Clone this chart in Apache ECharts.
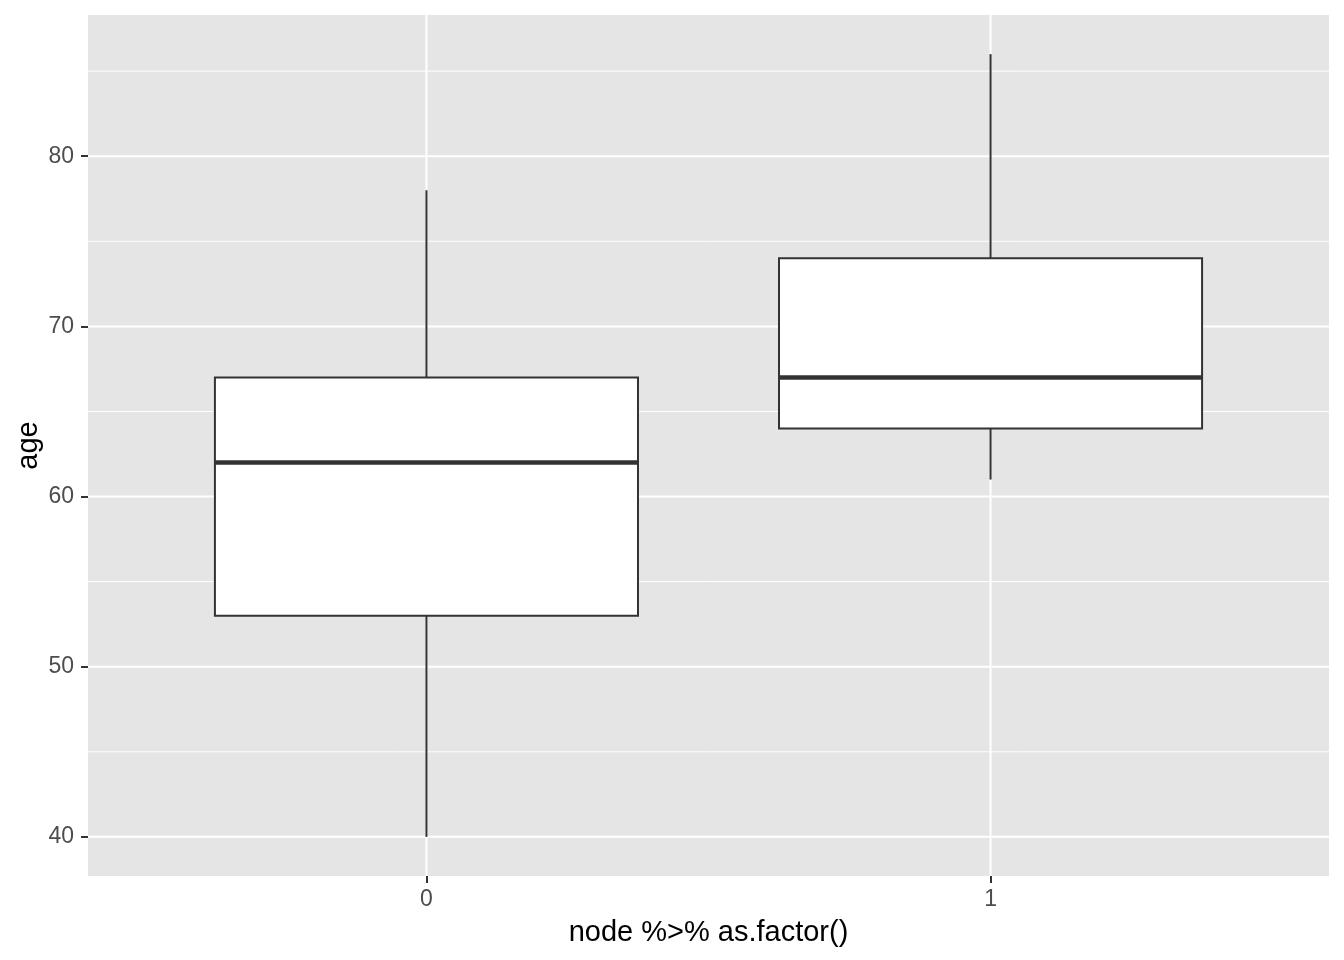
<!DOCTYPE html>
<html>
<head>
<meta charset="utf-8">
<script src="https://cdn.jsdelivr.net/npm/echarts@6/dist/echarts.min.js"></script>
<style>
html,body{margin:0;padding:0;background:#fff;}
#chart{width:1344px;height:960px;}
</style>
</head>
<body>
<div id="chart"></div>
<script>
// Data
var categories = ['0', '1'];
var mins    = [40, 61];
var q1s     = [53, 64];
var medians = [62, 67];
var q3s     = [67, 74];
var maxs    = [78, 86];
var yTicks  = [40, 50, 60, 70, 80];
var yMinor  = [45, 55, 65, 75, 85];
var xTicks  = [0, 1];

var boxData = categories.map(function (c, i) {
  return [i, mins[i], q1s[i], medians[i], q3s[i], maxs[i]];
});

// [kind (0 = horizontal, 1 = vertical), value, major (1) / minor (0)]
var gridData = [];
yMinor.forEach(function (v) { gridData.push([0, v, 0]); });
yTicks.forEach(function (v) { gridData.push([0, v, 1]); });
xTicks.forEach(function (v) { gridData.push([1, v, 1]); });

var chart = echarts.init(document.getElementById('chart'));
var option = {
  animation: false,
  backgroundColor: '#ffffff',
  grid: {
    left: 88, right: 15, top: 15, bottom: 84,
    show: true, backgroundColor: '#E5E5E5', borderWidth: 0
  },
  xAxis: {
    type: 'value',
    min: -0.6, max: 1.6,
    name: 'node %>% as.factor()',
    nameLocation: 'middle',
    nameGap: 42,
    nameTextStyle: { color: '#000000', fontSize: 29, fontFamily: 'Liberation Sans, Arial, sans-serif' },
    axisLine: { show: false, onZero: false },
    axisTick: { show: true, length: 7, lineStyle: { color: '#333333', width: 2 }, customValues: xTicks },
    axisLabel: {
      show: true, margin: 12, color: '#4D4D4D', fontSize: 23,
      fontFamily: 'Liberation Sans, Arial, sans-serif',
      customValues: xTicks,
      formatter: function (v) { return categories[Math.round(v)]; }
    },
    splitLine: { show: false }
  },
  yAxis: {
    type: 'value',
    min: 37.7, max: 88.3,
    name: 'age',
    nameLocation: 'middle',
    nameGap: 45,
    nameMoveOverlap: false,
    nameRotate: 90,
    nameTextStyle: { color: '#000000', fontSize: 29, fontFamily: 'Liberation Sans, Arial, sans-serif' },
    axisLine: { show: false, onZero: false },
    axisTick: { show: true, length: 7, lineStyle: { color: '#333333', width: 2 }, customValues: yTicks },
    axisLabel: {
      show: true, margin: 14, color: '#4D4D4D', fontSize: 23,
      fontFamily: 'Liberation Sans, Arial, sans-serif',
      customValues: yTicks
    },
    splitLine: { show: false }
  },
  series: [
    {
      type: 'custom',
      silent: true,
      z: 1,
      data: gridData,
      encode: { x: -1, y: -1 },
      renderItem: function (params, api) {
        var cs = params.coordSys;
        var kind = api.value(0);
        var v = api.value(1);
        var w = api.value(2) === 1 ? 2 : 1;
        var shape;
        if (kind === 0) {
          var p = api.coord([0, v]);
          shape = { x1: cs.x, y1: p[1], x2: cs.x + cs.width, y2: p[1] };
        } else {
          var q = api.coord([v, 50]);
          shape = { x1: q[0], y1: cs.y, x2: q[0], y2: cs.y + cs.height };
        }
        return { type: 'line', shape: shape, style: { stroke: '#FFFFFF', lineWidth: w } };
      }
    },
    {
      type: 'custom',
      z: 2,
      data: boxData,
      encode: { x: 0, y: [1, 2, 3, 4, 5] },
      renderItem: function (params, api) {
        var x = api.value(0);
        var half = 0.375;
        var pMin = api.coord([x, api.value(1)]);
        var pQ1 = api.coord([x, api.value(2)]);
        var pMed = api.coord([x, api.value(3)]);
        var pQ3 = api.coord([x, api.value(4)]);
        var pMax = api.coord([x, api.value(5)]);
        var left = api.coord([x - half, 50])[0];
        var right = api.coord([x + half, 50])[0];
        var stroke = '#333333';
        return {
          type: 'group',
          children: [
            { type: 'line', shape: { x1: pMax[0], y1: pMax[1], x2: pQ3[0], y2: pQ3[1] }, style: { stroke: stroke, lineWidth: 2 } },
            { type: 'line', shape: { x1: pQ1[0], y1: pQ1[1], x2: pMin[0], y2: pMin[1] }, style: { stroke: stroke, lineWidth: 2 } },
            { type: 'rect', shape: { x: left, y: pQ3[1], width: right - left, height: pQ1[1] - pQ3[1] }, style: { fill: '#FFFFFF', stroke: stroke, lineWidth: 2 } },
            { type: 'line', shape: { x1: left, y1: pMed[1], x2: right, y2: pMed[1] }, style: { stroke: stroke, lineWidth: 4.5 } }
          ]
        };
      }
    }
  ]
};
chart.setOption(option);
</script>
</body>
</html>
